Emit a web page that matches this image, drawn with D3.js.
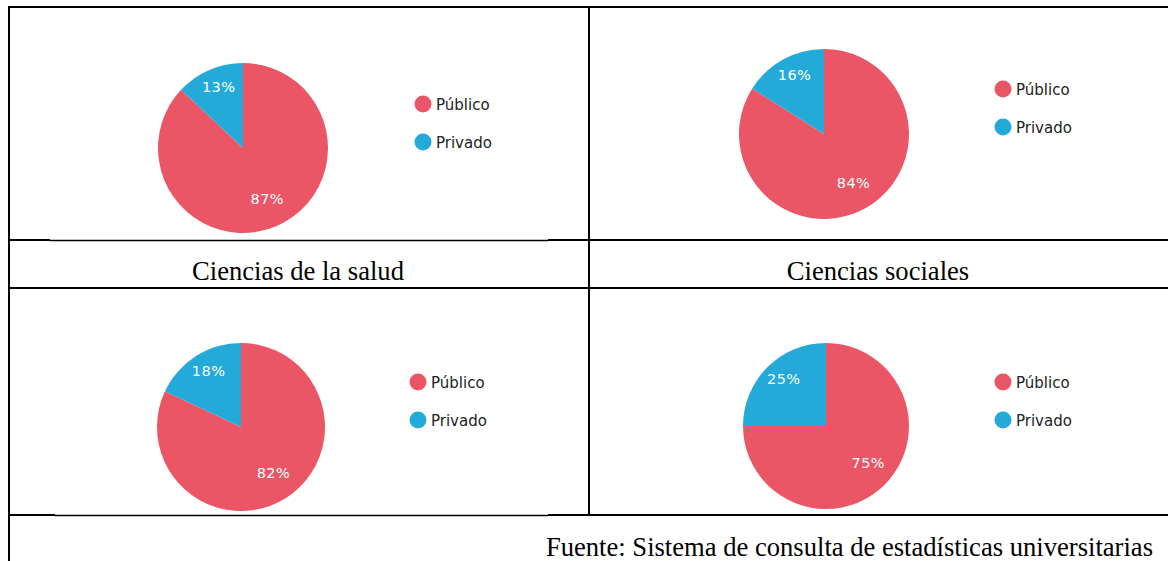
<!DOCTYPE html>
<html>
<head>
<meta charset="utf-8">
<script src="https://cdn.jsdelivr.net/npm/d3@7"></script>
<style>
  html, body { margin: 0; padding: 0; background: #fff; }
  svg { display: block; }
</style>
</head>
<body>
<svg id="chart" width="1168" height="561"></svg>
<script>
// ---- Data ----
const seriesNames = ["Público", "Privado"];
const seriesColors = ["#EB5667", "#24AAD8"];
const publico = [87, 84, 82, 75];
const privado = [13, 16, 18, 25];
const captions = ["Ciencias de la salud", "Ciencias sociales"];
const sourceNote = "Fuente: Sistema de consulta de estadísticas universitarias";

// ---- Layout (panel geometry) ----
const panels = [
  { cx: 243, cy: 148, r: 85, lx: 423, ly: 104 },
  { cx: 824, cy: 134, r: 85, lx: 1003, ly: 89 },
  { cx: 241, cy: 427, r: 84, lx: 418, ly: 382 },
  { cx: 826, cy: 426, r: 83, lx: 1003, ly: 382 }
];

const svg = d3.select("#chart");
const color = d3.scaleOrdinal().domain(seriesNames).range(seriesColors);

const pie = d3.pie().sort(null).value(d => d.value).startAngle(0).endAngle(2 * Math.PI);

panels.forEach((p, i) => {
  const data = seriesNames.map((name, k) => ({ name, value: [publico, privado][k][i] }));
  const g = svg.append("g").attr("transform", `translate(${p.cx},${p.cy})`);
  const arc = d3.arc().innerRadius(0).outerRadius(p.r);
  const labelArc = d3.arc().innerRadius(p.r * 0.72).outerRadius(p.r * 0.72);
  const arcs = pie(data);
  g.selectAll("path.slice").data(arcs).join("path")
    .attr("class", "slice")
    .attr("d", arc)
    .attr("fill", d => color(d.data.name));
  g.selectAll("text.lbl").data(arcs).join("text")
    .attr("class", "lbl")
    .attr("transform", d => `translate(${labelArc.centroid(d)})`)
    .attr("text-anchor", "middle")
    .attr("font-family", "DejaVu Sans, sans-serif")
    .attr("font-size", 14.5)
    .attr("letter-spacing", 0.4)
    .attr("fill", "#ffffff")
    .text(d => d.data.value + "%");

  // legend
  const lg = svg.append("g").attr("transform", `translate(${p.lx},${p.ly})`);
  const items = lg.selectAll("g").data(seriesNames).join("g")
    .attr("transform", (d, k) => `translate(0,${k * 38})`);
  items.append("circle").attr("r", 8.5).attr("fill", d => color(d));
  items.append("text")
    .attr("x", 13).attr("y", 5.5)
    .attr("font-family", "DejaVu Sans, sans-serif")
    .attr("font-size", 15)
    .attr("fill", "#222")
    .text(d => d);
});

// ---- Table lines ----
const lines = [
  // [x1,y1,x2,y2,width]
  [8, 7, 1168, 7, 2],
  [9, 6, 9, 561, 2],
  [589, 6, 589, 516, 2],
  [8, 240, 50, 240, 2],
  [50, 240.5, 548, 240.5, 1.4],
  [548, 240, 1168, 240, 2],
  [8, 288, 1168, 288, 2],
  [8, 515, 55, 515, 2],
  [55, 515.5, 548, 515.5, 1.4],
  [548, 515, 1168, 515, 2]
];
svg.selectAll("line.grid").data(lines).join("line")
  .attr("class", "grid")
  .attr("x1", d => d[0]).attr("y1", d => d[1])
  .attr("x2", d => d[2]).attr("y2", d => d[3])
  .attr("stroke", "#000").attr("stroke-width", d => d[4]);

// captions
const capX = d3.scalePoint().domain(captions).range([298, 878]);
svg.selectAll("text.cap").data(captions).join("text")
  .attr("class", "cap")
  .attr("x", d => capX(d)).attr("y", 280)
  .attr("text-anchor", "middle")
  .attr("font-family", "Liberation Serif, Times New Roman, serif")
  .attr("font-size", 26.6)
  .attr("fill", "#000")
  .text(d => d);

svg.append("text")
  .attr("x", 1153).attr("y", 556)
  .attr("text-anchor", "end")
  .attr("font-family", "Liberation Serif, Times New Roman, serif")
  .attr("font-size", 26.6)
  .attr("fill", "#000")
  .text(sourceNote);
</script>
</body>
</html>
